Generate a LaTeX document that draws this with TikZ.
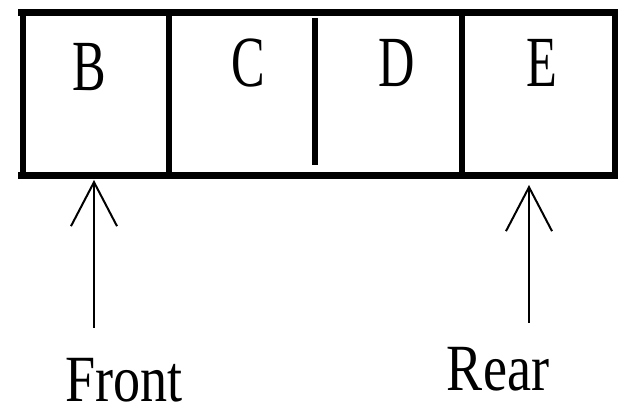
\documentclass[tikz,border=0pt]{standalone}
\usepackage{fontspec}
\setmainfont{Liberation Serif}
\usetikzlibrary{arrows.meta}

\begin{document}
\begin{tikzpicture}[x=1pt,y=1pt,
    wall/.style={line width=7pt},
    divider/.style={line width=6pt},
    cell/.style={font=\fontsize{72}{72}\selectfont, xscale=0.7, inner sep=0pt},
    pointer/.style={line width=2.5pt, -{Straight Barb[length=44pt,width=46pt,line width=2pt]}},
    tag/.style={font=\fontsize{66}{66}\selectfont, xscale=0.82, inner sep=0pt}
]

\useasboundingbox (0,0) rectangle (623,417);

% Queue frame
\draw[wall] (18,404) -- (618,404);
\draw[wall] (18,241.5) -- (618,241.5);
\draw[divider] (23,404) -- (23,241.5);
\draw[divider] (169,404) -- (169,241.5);
\draw[divider] (315,399) -- (315,252);
\draw[divider] (462,404) -- (462,241.5);
\draw[divider] (615,404) -- (615,241.5);

% Elements
\node[cell] (B) at (89,350) {B};
\node[cell] (C) at (248,354) {C};
\node[cell] (D) at (397,354) {D};
\node[cell] (E) at (542,354) {E};

% Pointers
\coordinate (fronttail) at (94,89);
\coordinate (fronttip) at (94,237);
\coordinate (reartail) at (529,94);
\coordinate (reartip) at (529,232);
\draw[pointer] (fronttail) -- (fronttip);
\draw[pointer] (reartail) -- (reartip);

\node[tag] (front) at (124,37) {Front};
\node[tag] (rear) at (498,48) {Rear};

\end{tikzpicture}
\end{document}
